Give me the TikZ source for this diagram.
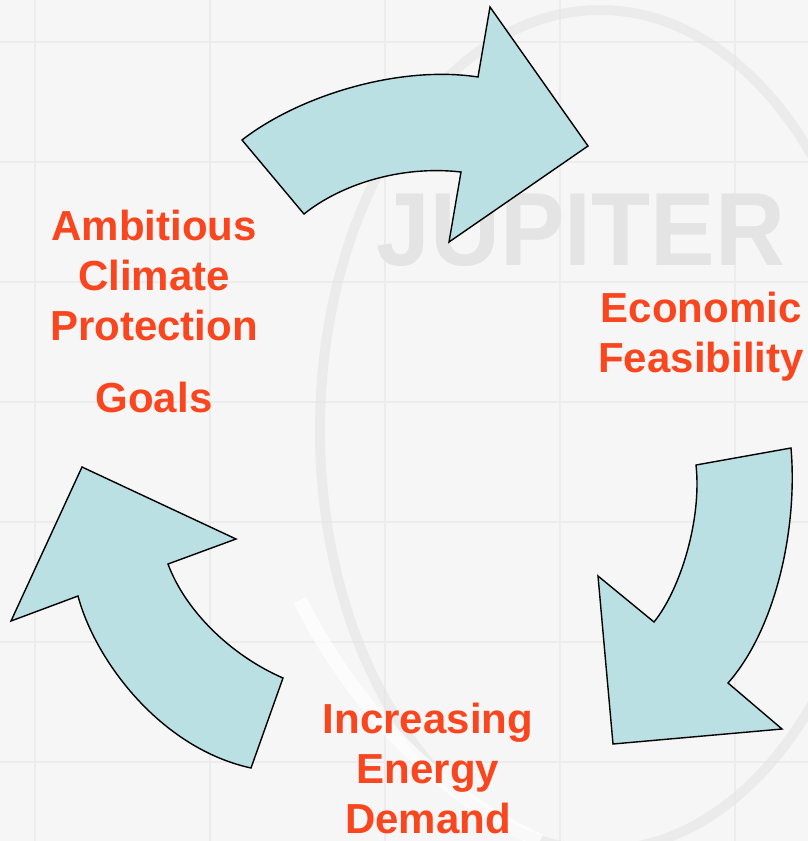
\documentclass[tikz,border=0pt]{standalone}
\usepackage{fontspec}
\setmainfont{Liberation Sans}
\definecolor{arrowfill}{RGB}{186,224,227}
\definecolor{labelred}{RGB}{250,70,30}
\definecolor{bgcol}{RGB}{246,246,246}
\definecolor{gridcol}{RGB}{236,236,236}
\definecolor{markcol}{RGB}{228,228,228}
\tikzset{
  cyclearrow/.style={fill=arrowfill, draw=black, line width=1.4pt, line join=miter},
  cyclelabel/.style={text=labelred, font=\bfseries\fontsize{42}{50}\selectfont, align=center, inner sep=0pt, anchor=north},
  gridline/.style={draw=gridcol, line width=2pt},
}
\begin{document}
\begin{tikzpicture}[x=1pt,y=-1pt]
\useasboundingbox (0,0) rectangle (808,841);
% background
\fill[bgcol] (0,0) rectangle (808,841);
\foreach \gx in {35,210,385,560,735} \draw[gridline] (\gx,0) -- (\gx,841);
\foreach \gy in {42,162,282,402,522,642,762} \draw[gridline] (0,\gy) -- (808,\gy);
% faint watermark
\draw[markcol, line width=10pt, opacity=0.6] (600,430) ellipse [x radius=280, y radius=420];
\draw[white, line width=14pt, opacity=0.7] (300,600) .. controls (360,720) and (450,800) .. (540,841);
\node[text=markcol, font=\bfseries\fontsize{104}{104}\selectfont, xscale=0.93, inner sep=0pt, anchor=base] (logo) at (581,265) {JUPITER};
% arrows
\path[cyclearrow] (242,140) .. controls (300,95) and (400,65) .. (478,77) -- (490,7) -- (588,146) -- (449,242) -- (461,172) .. controls (400,165) and (340,185) .. (304,214) -- cycle;
\path[cyclearrow] (696,465) -- (791,448) .. controls (798,530) and (775,630) .. (728,683) -- (782,729) -- (613,744) -- (598,576) -- (654,622) .. controls (680,590) and (702,520) .. (696,465) -- cycle;
\path[cyclearrow] (82,467) -- (236,539) -- (168,564) .. controls (185,610) and (230,655) .. (283,678) -- (251,768) .. controls (160,748) and (95,660) .. (78,596) -- (11,621) -- cycle;
% labels
\node[cyclelabel] (goals) at (154,210) {Ambitious\\Climate\\Protection\\[22pt]Goals};
\node[cyclelabel] (econ) at (701,292) {Economic\\Feasibility};
\node[cyclelabel] (demand) at (428,703) {Increasing\\Energy\\Demand};
\end{tikzpicture}
\end{document}
